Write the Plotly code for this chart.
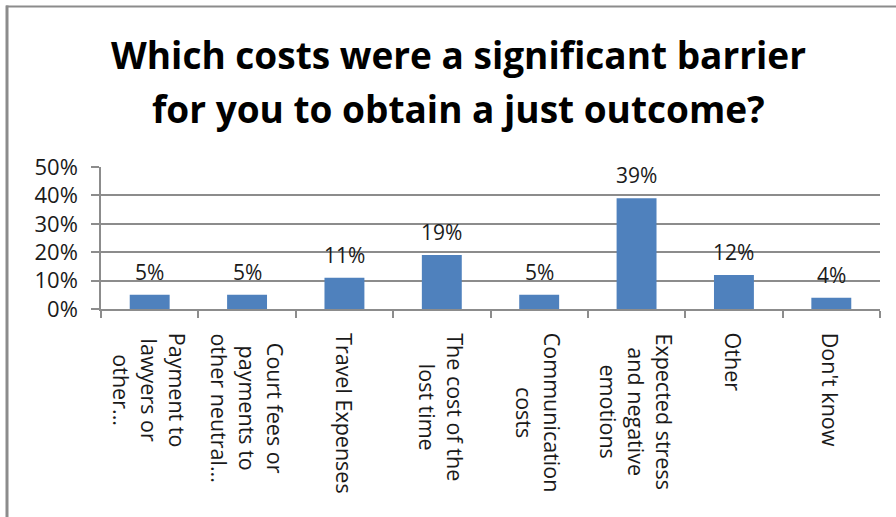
import plotly.graph_objects as go

# Survey answers: share of respondents naming each cost as a barrier
categories = [
    "Payment to<br>lawyers or<br>other...",
    "Court fees or<br>payments to<br>other neutral...",
    "Travel Expenses",
    "The cost of the<br>lost time",
    "Communication<br>costs",
    "Expected stress<br>and negative<br>emotions",
    "Other",
    "Don't know",
]
values = [0.05, 0.05, 0.11, 0.19, 0.05, 0.39, 0.12, 0.04]
value_labels = ["5%", "5%", "11%", "19%", "5%", "39%", "12%", "4%"]
y_ticks = [0, 0.1, 0.2, 0.3, 0.4, 0.5]
y_tick_labels = ["0%", "10%", "20%", "30%", "40%", "50%"]
title_lines = [
    "Which costs were a significant barrier",
    "for you to obtain a just outcome?",
]

W, H = 896, 517
L, R, T, B = 101, 16, 167, 208
pw, ph = W - L - R, H - T - B

BAR = "#4F81BD"
GRID = "#8C8C8C"
FONT = "Open Sans"
TEXT = "#1a1a1a"


def px_x(x):
    return (x - L) / pw


def px_y(y):
    return (H - B - y) / ph


keys = [f"c{i}" for i in range(len(categories))]

fig = go.Figure(
    go.Bar(x=keys, y=values, marker=dict(color=BAR, line=dict(width=0)), width=0.41)
)

annotations = []
# value labels above bars
for k, v, t in zip(keys, values, value_labels):
    annotations.append(dict(
        x=k, y=v, xref="x", yref="y", text=t, showarrow=False,
        yanchor="middle", yshift=23,
        font=dict(family=FONT, size=21, color=TEXT),
    ))
# rotated category labels
for k, c in zip(keys, categories):
    annotations.append(dict(
        x=k, y=0, xref="x", yref="y", text=c, showarrow=False,
        textangle=90, align="center", xanchor="center", yanchor="top", yshift=-22,
        font=dict(family=FONT, size=21.5, color=TEXT),
    ))
# two-line title
for line, ypx in zip(title_lines, [55, 108]):
    annotations.append(dict(
        x=px_x(458), y=px_y(ypx), xref="paper", yref="paper", text=line,
        showarrow=False, xanchor="center", yanchor="middle",
        font=dict(family=FONT, size=37, color="#000000", weight="bold"),
    ))

shapes = [
    dict(type="line", xref="paper", yref="paper", x0=px_x(6), x1=px_x(896),
         y0=px_y(6.5), y1=px_y(6.5), line=dict(color=GRID, width=2)),
    dict(type="line", xref="paper", yref="paper", x0=px_x(7), x1=px_x(7),
         y0=px_y(5.5), y1=px_y(517), line=dict(color=GRID, width=3)),
]

fig.update_layout(
    width=W, height=H,
    margin=dict(l=L, r=R, t=T, b=B, pad=0),
    paper_bgcolor="white", plot_bgcolor="white",
    showlegend=False,
    annotations=annotations,
    shapes=shapes,
    xaxis=dict(
        showticklabels=False, showgrid=False, showline=True, linecolor=GRID,
        linewidth=1.5, ticks="outside", ticklen=7, tickcolor=GRID, tickwidth=1.5,
        tickson="boundaries", fixedrange=True,
    ),
    yaxis=dict(
        range=[0, 0.5], tickvals=y_ticks, ticktext=y_tick_labels,
        showgrid=True, gridcolor=GRID, gridwidth=1.5, zeroline=False,
        showline=True, linecolor=GRID, linewidth=1.5,
        ticks="outside", ticklen=8, tickcolor=GRID, tickwidth=1.5,
        ticklabelstandoff=9,
        tickfont=dict(family=FONT, size=22, color=TEXT),
    ),
)

fig.write_html("out.html")
